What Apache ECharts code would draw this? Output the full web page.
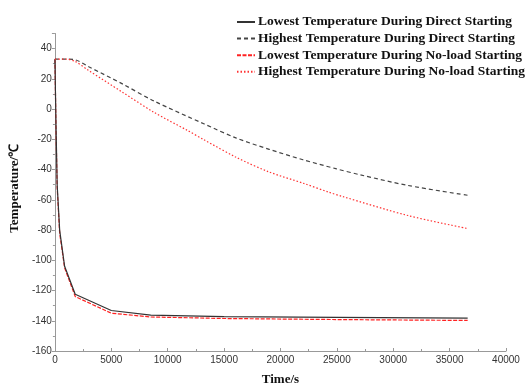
<!DOCTYPE html>
<html>
<head>
<meta charset="utf-8">
<script src="https://cdn.jsdelivr.net/npm/echarts@6/dist/echarts.min.js"></script>
<style>html,body{margin:0;padding:0;background:#fff}#c{width:531px;height:391px}</style>
</head>
<body>
<div id="c"></div>
<script>
var seriesNames = [
  'Lowest Temperature During Direct Starting',
  'Highest Temperature During Direct Starting',
  'Lowest Temperature During No-load Starting',
  'Highest Temperature During No-load Starting'
];
// [time (s), temperature (°C)]
var lowDirect = [[0,33],[100,-12],[200,-50],[420,-80],[860,-104],[1800,-122.5],[5000,-133.2],[8500,-136.3],[15000,-137.3],[25000,-137.8],[36600,-138.3]];
var highDirect = [[0,33],[1000,33],[1800,32.6],[3000,28],[5900,17],[8800,5.3],[13200,-9.7],[16100,-19.2],[19000,-26.6],[22000,-33.5],[24900,-39.4],[27200,-43.7],[31300,-50.5],[36600,-57]];
var lowNoLoad = [[0,33],[100,-14],[200,-52],[420,-82],[860,-105],[1800,-124],[5000,-135],[8500,-137.5],[15000,-138.5],[25000,-139.2],[36600,-139.8]];
var highNoLoad = [[0,33],[1000,33],[1800,31.5],[3000,25.5],[5900,11.6],[8800,-2.2],[11700,-13.9],[13200,-20.2],[16100,-32],[19000,-41.6],[22000,-49],[24300,-55],[25500,-57.8],[31300,-70.4],[36600,-79]];
var xTicks = {min: 0, max: 40000, interval: 5000};
var yTicks = {min: -160, max: 50, interval: 20};

var chart = echarts.init(document.getElementById('c'));
var axisLabel = {fontFamily: 'Liberation Sans', fontSize: 10, color: '#333', formatter: function (v) { return String(v); }};
var nameStyle = {fontFamily: 'Liberation Serif', fontWeight: 'bold', fontSize: 13, color: '#111'};
chart.setOption({
  animation: false,
  grid: {left: 49.5, right: 25, top: 33.5, bottom: 29, containLabel: false},
  legend: {
    orient: 'vertical', left: 231, top: 10, itemGap: 2.6, itemWidth: 18, itemHeight: 14,
    itemStyle: {opacity: 0},
    textStyle: {fontFamily: 'Liberation Serif', fontWeight: 'bold', fontSize: 13.5, color: '#111', padding: [0,0,0,-2]},
    data: seriesNames
  },
  xAxis: {
    type: 'value', min: xTicks.min, max: xTicks.max, interval: xTicks.interval,
    name: 'Time/s', nameLocation: 'middle', nameGap: 22, nameTextStyle: nameStyle,
    axisLine: {show: true, onZero: false, lineStyle: {color: '#999', width: 1}},
    axisTick: {show: true, inside: true, length: 3, lineStyle: {color: '#999'}},
    minorTick: {show: true, splitNumber: 2, length: 2, lineStyle: {color: '#999'}},
    splitLine: {show: false},
    axisLabel: Object.assign({margin: 4}, axisLabel)
  },
  yAxis: {
    type: 'value', min: yTicks.min, max: yTicks.max, interval: yTicks.interval,
    name: 'Temperature/℃', nameLocation: 'middle', nameGap: 28, nameTextStyle: Object.assign({padding: [0,0,0,8]}, nameStyle),
    axisLine: {show: true, onZero: false, lineStyle: {color: '#999', width: 1}},
    axisTick: {show: true, inside: false, length: 3, lineStyle: {color: '#999'}},
    minorTick: {show: true, splitNumber: 2, length: 2, lineStyle: {color: '#999'}},
    splitLine: {show: false},
    axisLabel: Object.assign({margin: 3, showMaxLabel: false}, axisLabel)
  },
  series: [
    {name: seriesNames[0], type: 'line', data: lowDirect, symbol: 'none', z: 3,
     lineStyle: {color: '#333', width: 1.2, type: 'solid'}, itemStyle: {color: '#333'}},
    {name: seriesNames[1], type: 'line', data: highDirect, symbol: 'none', smooth: 0.3,
     lineStyle: {color: '#444', width: 1.2, type: [4, 3]}, itemStyle: {color: '#444'}},
    {name: seriesNames[2], type: 'line', data: lowNoLoad, symbol: 'none', z: 2,
     lineStyle: {color: '#f22', width: 1.2, type: [4, 1.5]}, itemStyle: {color: '#f22'}},
    {name: seriesNames[3], type: 'line', data: highNoLoad, symbol: 'none', smooth: 0.3,
     lineStyle: {color: '#f33', width: 1.2, type: [1.5, 2]}, itemStyle: {color: '#f33'}}
  ]
});
</script>
</body>
</html>
